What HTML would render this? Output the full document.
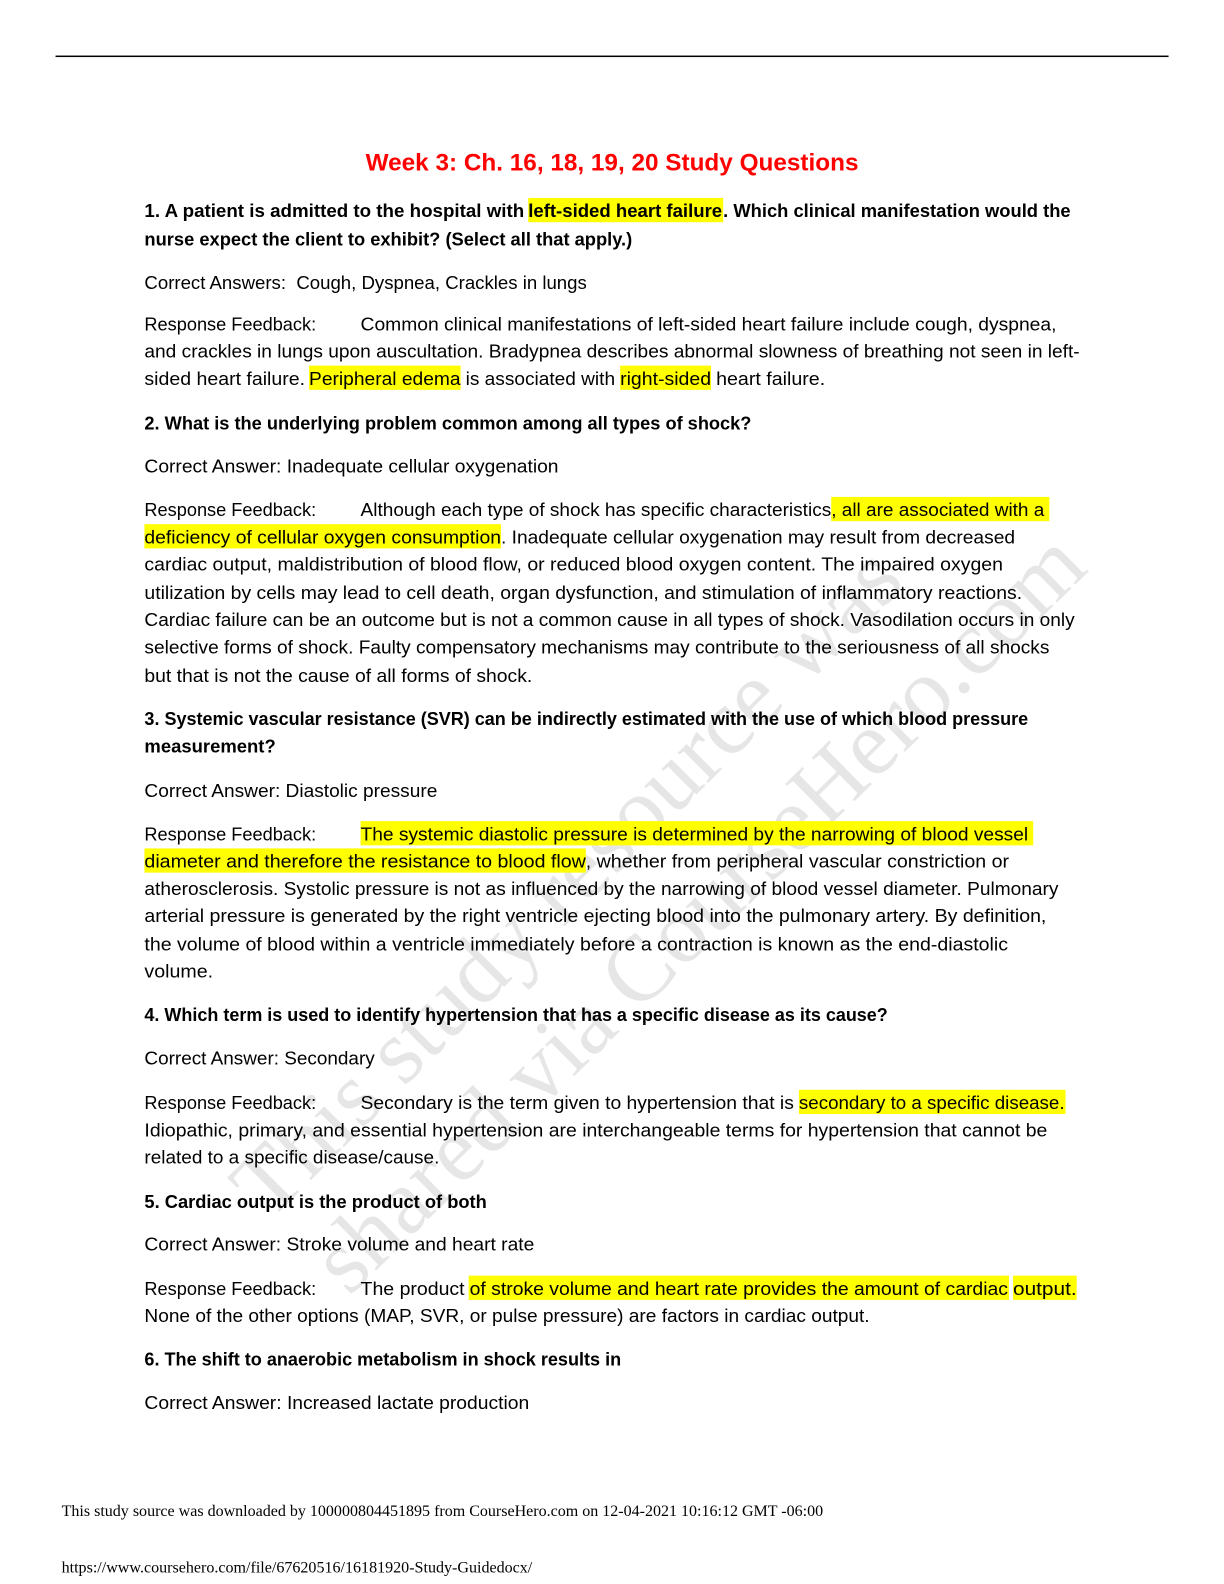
<!DOCTYPE html>
<html lang="en">
<head>
<meta charset="utf-8">
<title>Week 3: Ch. 16, 18, 19, 20 Study Questions</title>
<style>
html,body{margin:0;padding:0;background:#fff;width:1224px;height:1584px;overflow:hidden}
svg{display:block}
text{font-family:"Liberation Sans",sans-serif;font-size:18px;fill:#000;white-space:pre}
.b{font-weight:bold}
.wm{font-family:"Liberation Serif",serif;font-size:93px;fill:#e6e6e6}
.f{font-family:"Liberation Serif",serif;font-size:15.5px}
.h{fill:#ffff00}
</style>
</head>
<body>
<svg xmlns="http://www.w3.org/2000/svg" width="1224" height="1584" viewBox="0 0 1224 1584">
<rect width="1224" height="1584" fill="#fff"/>

<!-- watermark -->
<text class="wm" transform="translate(269,1222) rotate(-45)" textLength="902" lengthAdjust="spacingAndGlyphs">This study resource was</text>
<text class="wm" transform="translate(349,1297) rotate(-44.45)" textLength="1038" lengthAdjust="spacingAndGlyphs">shared via CourseHero.com</text>

<g transform="scale(1.01)">
<rect x="55" y="55" width="1102" height="1.5" fill="#000"/>

<!-- highlights -->
<rect class="h" x="523" y="196" width="193" height="24"/>
<rect class="h" x="306" y="362" width="150" height="24"/>
<rect class="h" x="614" y="362" width="90" height="24"/>
<rect class="h" x="823" y="492" width="216" height="24"/>
<rect class="h" x="143" y="519" width="353" height="24"/>
<rect class="h" x="357" y="813" width="666" height="24"/>
<rect class="h" x="143" y="840" width="437" height="24"/>
<rect class="h" x="791" y="1079" width="264" height="24"/>
<rect class="h" x="464" y="1263" width="535" height="24"/>
<rect class="h" x="1003" y="1263" width="63" height="24"/>

<!-- title -->
<text class="b" x="362" y="169" style="font-size:24px;fill:#ff0000" textLength="488" lengthAdjust="spacingAndGlyphs">Week 3: Ch. 16, 18, 19, 20 Study Questions</text>

<!-- Q1 -->
<text class="b" x="143" y="215" textLength="376" lengthAdjust="spacingAndGlyphs">1. A patient is admitted to the hospital with</text>
<text class="b" x="523" y="215" textLength="192" lengthAdjust="spacingAndGlyphs">left-sided heart failure</text>
<text class="b" x="716" y="215" textLength="344" lengthAdjust="spacingAndGlyphs">. Which clinical manifestation would the</text>
<text class="b" x="143" y="243" textLength="483" lengthAdjust="spacingAndGlyphs">nurse expect the client to exhibit? (Select all that apply.)</text>
<text x="143" y="286" textLength="438" lengthAdjust="spacingAndGlyphs">Correct Answers:  Cough, Dyspnea, Crackles in lungs</text>
<text x="143" y="327" textLength="170" lengthAdjust="spacingAndGlyphs">Response Feedback:</text>
<text x="357" y="327" textLength="689" lengthAdjust="spacingAndGlyphs">Common clinical manifestations of left-sided heart failure include cough, dyspnea,</text>
<text x="143" y="354" textLength="926" lengthAdjust="spacingAndGlyphs">and crackles in lungs upon auscultation. Bradypnea describes abnormal slowness of breathing not seen in left-</text>
<text x="143" y="381" textLength="159" lengthAdjust="spacingAndGlyphs">sided heart failure.</text>
<text x="306" y="381" textLength="150" lengthAdjust="spacingAndGlyphs">Peripheral edema</text>
<text x="461" y="381" textLength="148" lengthAdjust="spacingAndGlyphs">is associated with</text>
<text x="614" y="381" textLength="90" lengthAdjust="spacingAndGlyphs">right-sided</text>
<text x="709" y="381" textLength="108" lengthAdjust="spacingAndGlyphs">heart failure.</text>

<!-- Q2 -->
<text class="b" x="143" y="425" textLength="601" lengthAdjust="spacingAndGlyphs">2. What is the underlying problem common among all types of shock?</text>
<text x="143" y="468" textLength="410" lengthAdjust="spacingAndGlyphs">Correct Answer: Inadequate cellular oxygenation</text>
<text x="143" y="511" textLength="170" lengthAdjust="spacingAndGlyphs">Response Feedback:</text>
<text x="357" y="511" textLength="466" lengthAdjust="spacingAndGlyphs">Although each type of shock has specific characteristics</text>
<text x="823" y="511" textLength="211" lengthAdjust="spacingAndGlyphs">, all are associated with a</text>
<text x="143" y="538" textLength="353" lengthAdjust="spacingAndGlyphs">deficiency of cellular oxygen consumption</text>
<text x="496" y="538" textLength="509" lengthAdjust="spacingAndGlyphs">. Inadequate cellular oxygenation may result from decreased</text>
<text x="143" y="565" textLength="850" lengthAdjust="spacingAndGlyphs">cardiac output, maldistribution of blood flow, or reduced blood oxygen content. The impaired oxygen</text>
<text x="143" y="593" textLength="869" lengthAdjust="spacingAndGlyphs">utilization by cells may lead to cell death, organ dysfunction, and stimulation of inflammatory reactions.</text>
<text x="143" y="620" textLength="921" lengthAdjust="spacingAndGlyphs">Cardiac failure can be an outcome but is not a common cause in all types of shock. Vasodilation occurs in only</text>
<text x="143" y="647" textLength="896" lengthAdjust="spacingAndGlyphs">selective forms of shock. Faulty compensatory mechanisms may contribute to the seriousness of all shocks</text>
<text x="143" y="675" textLength="384" lengthAdjust="spacingAndGlyphs">but that is not the cause of all forms of shock.</text>

<!-- Q3 -->
<text class="b" x="143" y="718" textLength="875" lengthAdjust="spacingAndGlyphs">3. Systemic vascular resistance (SVR) can be indirectly estimated with the use of which blood pressure</text>
<text class="b" x="143" y="745" textLength="130" lengthAdjust="spacingAndGlyphs">measurement?</text>
<text x="143" y="789" textLength="290" lengthAdjust="spacingAndGlyphs">Correct Answer: Diastolic pressure</text>
<text x="143" y="832" textLength="170" lengthAdjust="spacingAndGlyphs">Response Feedback:</text>
<text x="357" y="832" textLength="661" lengthAdjust="spacingAndGlyphs">The systemic diastolic pressure is determined by the narrowing of blood vessel</text>
<text x="143" y="859" textLength="437" lengthAdjust="spacingAndGlyphs">diameter and therefore the resistance to blood flow</text>
<text x="580" y="859" textLength="419" lengthAdjust="spacingAndGlyphs">, whether from peripheral vascular constriction or</text>
<text x="143" y="886" textLength="905" lengthAdjust="spacingAndGlyphs">atherosclerosis. Systolic pressure is not as influenced by the narrowing of blood vessel diameter. Pulmonary</text>
<text x="143" y="913" textLength="893" lengthAdjust="spacingAndGlyphs">arterial pressure is generated by the right ventricle ejecting blood into the pulmonary artery. By definition,</text>
<text x="143" y="941" textLength="855" lengthAdjust="spacingAndGlyphs">the volume of blood within a ventricle immediately before a contraction is known as the end-diastolic</text>
<text x="143" y="968" textLength="68" lengthAdjust="spacingAndGlyphs">volume.</text>

<!-- Q4 -->
<text class="b" x="143" y="1011" textLength="736" lengthAdjust="spacingAndGlyphs">4. Which term is used to identify hypertension that has a specific disease as its cause?</text>
<text x="143" y="1054" textLength="228" lengthAdjust="spacingAndGlyphs">Correct Answer: Secondary</text>
<text x="143" y="1098" textLength="170" lengthAdjust="spacingAndGlyphs">Response Feedback:</text>
<text x="357" y="1098" textLength="429" lengthAdjust="spacingAndGlyphs">Secondary is the term given to hypertension that is</text>
<text x="791" y="1098" textLength="263" lengthAdjust="spacingAndGlyphs">secondary to a specific disease.</text>
<text x="143" y="1125" textLength="894" lengthAdjust="spacingAndGlyphs">Idiopathic, primary, and essential hypertension are interchangeable terms for hypertension that cannot be</text>
<text x="143" y="1152" textLength="292" lengthAdjust="spacingAndGlyphs">related to a specific disease/cause.</text>

<!-- Q5 -->
<text class="b" x="143" y="1196" textLength="339" lengthAdjust="spacingAndGlyphs">5. Cardiac output is the product of both</text>
<text x="143" y="1238" textLength="386" lengthAdjust="spacingAndGlyphs">Correct Answer: Stroke volume and heart rate</text>
<text x="143" y="1282" textLength="170" lengthAdjust="spacingAndGlyphs">Response Feedback:</text>
<text x="357" y="1282" textLength="103" lengthAdjust="spacingAndGlyphs">The product</text>
<text x="465" y="1282" textLength="533" lengthAdjust="spacingAndGlyphs">of stroke volume and heart rate provides the amount of cardiac</text>
<text x="1003" y="1282" textLength="63" lengthAdjust="spacingAndGlyphs">output.</text>
<text x="143" y="1309" textLength="718" lengthAdjust="spacingAndGlyphs">None of the other options (MAP, SVR, or pulse pressure) are factors in cardiac output.</text>

<!-- Q6 -->
<text class="b" x="143" y="1352" textLength="472" lengthAdjust="spacingAndGlyphs">6. The shift to anaerobic metabolism in shock results in</text>
<text x="143" y="1395" textLength="381" lengthAdjust="spacingAndGlyphs">Correct Answer: Increased lactate production</text>

<!-- footer -->
<text class="f" x="61" y="1501" textLength="754" lengthAdjust="spacingAndGlyphs">This study source was downloaded by 100000804451895 from CourseHero.com on 12-04-2021 10:16:12 GMT -06:00</text>
<text class="f" x="61" y="1557" textLength="466" lengthAdjust="spacingAndGlyphs">https://www.coursehero.com/file/67620516/16181920-Study-Guidedocx/</text>
</g>
</svg>
</body>
</html>
